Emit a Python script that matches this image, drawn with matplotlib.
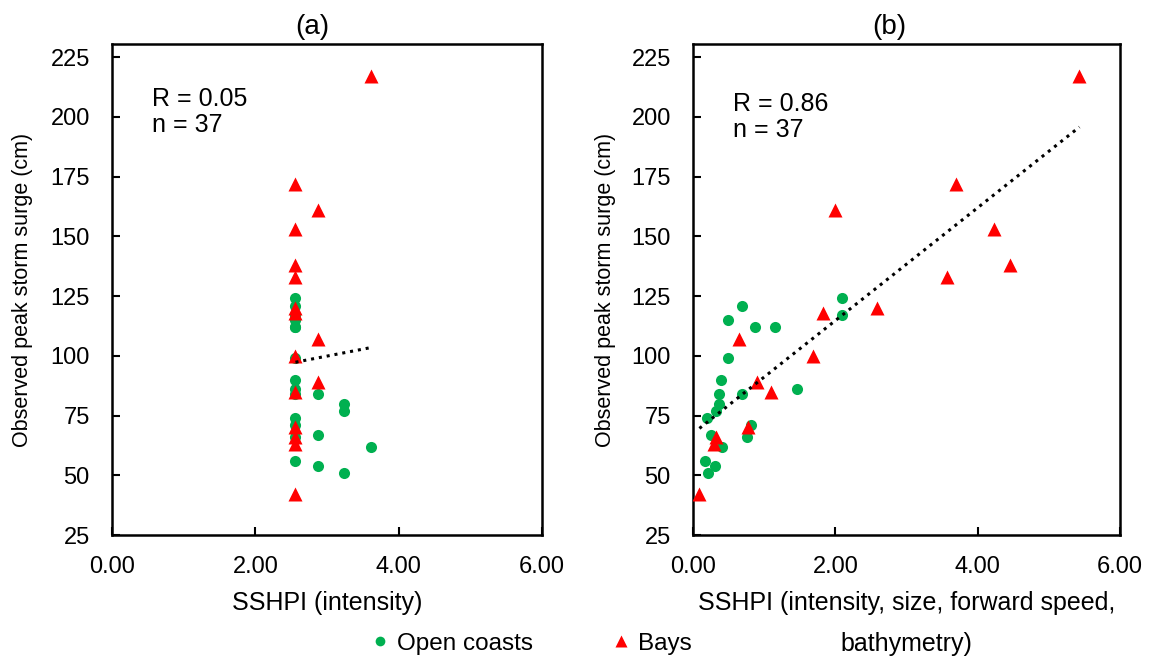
import numpy as np
import matplotlib
matplotlib.use('Agg')
import matplotlib.pyplot as plt
from matplotlib.lines import Line2D

plt.rcParams['font.family'] = ['Liberation Sans', 'DejaVu Sans']

# observed peak surge (cm)
open_y = [124, 121, 117, 115, 112, 112, 99, 90, 86, 84, 84, 80, 77, 74, 71, 67, 66, 62, 56, 54, 51]
bays_y = [217, 172, 161, 153, 138, 133, 120, 118, 107, 100, 89, 85, 70, 66, 63, 42]

# SSHPI (intensity only)
open_xa = [2.56, 2.56, 2.56, 2.56, 2.56, 2.56, 2.56, 2.56, 2.56, 2.88, 2.56,
           3.24, 3.24, 2.56, 2.56, 2.88, 2.56, 3.61, 2.56, 2.88, 3.24]
bays_xa = [3.61, 2.56, 2.88, 2.56, 2.56, 2.56, 2.56, 2.56, 2.88, 2.56, 2.88,
           2.56, 2.56, 2.56, 2.56, 2.56]

# SSHPI (intensity, size, forward speed, bathymetry)
open_xb = [2.10, 0.69, 2.10, 0.49, 0.87, 1.15, 0.49, 0.40, 1.46, 0.37, 0.69,
           0.37, 0.33, 0.20, 0.81, 0.25, 0.76, 0.41, 0.17, 0.31, 0.21]
bays_xb = [5.43, 3.70, 1.99, 4.23, 4.45, 3.57, 2.59, 1.82, 0.64, 1.69, 0.90,
           1.10, 0.77, 0.32, 0.29, 0.09]

panels = [
    ("(a)", open_xa, bays_xa, "SSHPI (intensity)", "R = 0.05", 0.467, 0.862, -0.183, -0.115),
    ("(b)", open_xb, bays_xb, "SSHPI (intensity, size, forward speed,\nbathymetry)", "R = 0.86", 0.46, 0.851, -0.181, -0.115),
]

GREEN = '#00B050'
RED = '#FF0000'

fig = plt.figure(figsize=(11.6, 6.58), dpi=100)
axes = [fig.add_axes([112/1160, 1-535/658, 430/1160, 491/658]),
        fig.add_axes([693/1160, 1-535/658, 427/1160, 491/658])]

for ax, (title, ox, bx, xlabel, rtxt, tx, ty, ylx, xly) in zip(axes, panels):
    ax.plot(ox, open_y, 'o', color=GREEN, ms=8, mec='none', zorder=3)
    ax.plot(bx, bays_y, '^', color=RED, ms=9.5, mec='none', zorder=3)

    # linear trendline over all points
    allx = np.array(ox + bx)
    ally = np.array(open_y + bays_y)
    k, b = np.polyfit(allx, ally, 1)
    xs = np.array([allx.min(), allx.max()])
    ax.plot(xs, k*xs + b, color='black', ls=(0, (1, 1.6)), lw=2.2, zorder=4)

    ax.set_xlim(0, 6)
    ax.set_ylim(25, 230.5)
    ax.set_xticks([0, 2, 4, 6])
    ax.set_xticklabels(["0.00", "2.00", "4.00", "6.00"])
    ax.set_yticks(range(25, 226, 25))
    ax.tick_params(direction='in', length=6, width=1.5, labelsize=17,
                   top=False, right=False)
    ax.tick_params(axis='y', pad=16)
    ax.tick_params(axis='x', pad=15)
    for s in ax.spines.values():
        s.set_linewidth(1.8)
    ax.set_xlabel(xlabel, fontsize=18, linespacing=1.85)
    ax.xaxis.set_label_coords(0.5, xly)
    ax.set_ylabel("Observed peak storm surge (cm)", fontsize=15.5)
    ax.yaxis.set_label_coords(ylx, 0.5)
    ax.text(tx, 1.008, title, transform=ax.transAxes, ha='center', va='bottom', fontsize=20)
    ax.text(0.093, ty, rtxt + "\nn = 37", transform=ax.transAxes, ha='left', va='center',
            fontsize=18, linespacing=1.12)

handles = [Line2D([], [], ls='none', marker='o', color=GREEN, ms=7, mec='none'),
           Line2D([], [], ls='none', marker='^', color=RED, ms=8, mec='none')]
fig.legend(handles, ["Open coasts", "Bays"], loc='center', bbox_to_anchor=(0.459, 0.022),
           ncol=2, frameon=False, fontsize=17.5, handlelength=0.6, handletextpad=0.4,
           columnspacing=3.3)

fig.savefig("out.png", dpi=100)
